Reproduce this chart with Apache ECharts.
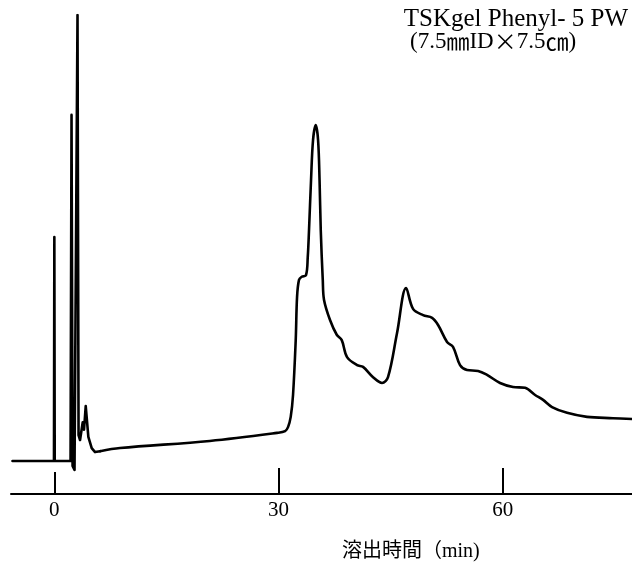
<!DOCTYPE html>
<html>
<head>
<meta charset="utf-8">
<title>TSKgel Phenyl-5PW</title>
<script src="https://cdn.jsdelivr.net/npm/echarts@6/dist/echarts.min.js"></script>
<style>
  html, body { margin: 0; padding: 0; background: #ffffff; }
  #chart { width: 632px; height: 570px; }
</style>
</head>
<body>
<div id="chart"></div>
<script>
// Early part of the run: injection mark and unretained spikes (drawn without smoothing)
const spikeTimes  = [-5.6, -0.05, 0.0, 0.05, 2.17, 2.30, 2.44, 2.70, 2.90, 3.10, 3.24, 3.44, 3.80, 3.97, 4.20, 4.55, 5.00, 5.45, 6.12];
const spikeSignal = [0.0, 0.0, 50.2, 0.0, 0.0, 77.6, -1.1, -2.0, -2.0, 100.0, 5.8, 4.7, 8.7, 7.0, 12.3, 5.4, 2.9, 2.0, 2.2];

// Gradient elution profile (retention time in min, detector response)
const elutionTimes = [6.12, 8.79, 20.8, 29.8, 30.88, 31.27, 31.63, 31.94, 32.30, 32.48, 32.74, 33.11, 33.68, 33.91, 34.08, 34.35, 34.62, 34.98, 35.29, 35.49, 35.65, 35.92, 36.09, 36.89, 37.79, 38.46, 39.17, 40.51, 41.31, 42.65, 43.85, 44.65, 45.86, 47.07, 48.00, 49.34, 50.55, 51.35, 52.55, 53.35, 54.29, 55.23, 56.70, 57.90, 59.64, 61.38, 62.99, 64.33, 65.40, 66.60, 68.61, 71.28, 74.76, 77.30];
const elutionSignal = [2.2, 2.9, 4.5, 6.3, 6.7, 7.6, 9.9, 14.8, 27.1, 36.8, 40.6, 41.3, 41.7, 45.7, 51.8, 63.0, 72.0, 75.3, 72.0, 63.0, 51.8, 40.6, 36.1, 31.6, 28.3, 27.1, 23.3, 21.5, 21.1, 18.8, 17.5, 18.8, 28.7, 38.8, 34.1, 32.7, 32.1, 30.5, 26.7, 25.6, 21.5, 20.4, 20.2, 19.3, 17.5, 16.6, 16.4, 14.8, 13.7, 12.1, 10.8, 9.9, 9.6, 9.4];

// Time axis
const timeTicks = [0, 30, 60];
const xMin = -5.8;
const xMax = 77.3;

const columnName = 'TSKgel Phenyl- 5 PW';
const axisTitle = '溶出時間（min)';

const pair = (xs, ys) => xs.map((x, i) => [x, ys[i]]);

const serif = "'Liberation Serif', 'DejaVu Serif', 'Noto Sans CJK JP', serif";
const cjk = "'Noto Sans CJK JP', 'Liberation Serif', sans-serif";
const traceStyle = { color: '#000000', width: 2.6, join: 'round', cap: 'round' };

const chart = echarts.init(document.getElementById('chart'), null, { renderer: 'canvas' });

chart.setOption({
  animation: false,
  backgroundColor: '#ffffff',
  grid: { left: 11, right: 0, top: 15, bottom: 76 },
  xAxis: [
    {
      type: 'value',
      min: xMin,
      max: xMax,
      position: 'bottom',
      axisLine: { show: true, onZero: false, lineStyle: { color: '#000000', width: 2 } },
      axisTick: {
        show: true, inside: true, length: 26,
        customValues: timeTicks.filter(v => v !== 0),
        lineStyle: { color: '#000000', width: 2 }
      },
      axisLabel: {
        show: true, margin: 6,
        customValues: timeTicks,
        color: '#000000', fontFamily: serif, fontSize: 21
      },
      splitLine: { show: false }
    },
    {
      // shorter start mark at t = 0
      type: 'value',
      min: xMin,
      max: xMax,
      position: 'bottom',
      axisLine: { show: false, onZero: false },
      axisTick: {
        show: true, inside: true, length: 22,
        customValues: [timeTicks[0]],
        lineStyle: { color: '#000000', width: 2 }
      },
      axisLabel: { show: false },
      splitLine: { show: false }
    }
  ],
  yAxis: {
    type: 'value',
    min: -7.4,
    max: 100,
    show: false
  },
  series: [
    {
      type: 'line',
      xAxisIndex: 0,
      data: pair(spikeTimes, spikeSignal),
      showSymbol: false,
      smooth: false,
      lineStyle: traceStyle,
      silent: true
    },
    {
      type: 'line',
      xAxisIndex: 0,
      data: pair(elutionTimes, elutionSignal),
      showSymbol: false,
      smooth: 0.35,
      lineStyle: traceStyle,
      silent: true
    }
  ],
  graphic: [
    {
      type: 'text', right: 4, top: 7,
      style: { text: columnName, fill: '#000000', font: "25px " + serif }
    },
    {
      // column dimensions, units set in the CJK face
      type: 'text', left: 410, top: 30,
      style: {
        text: '{s|(7.5}{u|㎜}{s|ID}{u|×}{s|7.5}{u|㎝}{s|)}',
        fill: '#000000',
        rich: {
          s: { fontFamily: serif, fontSize: 23, fill: '#000000' },
          u: { fontFamily: cjk, fontSize: 23, fill: '#000000' }
        }
      }
    },
    {
      type: 'text', left: 342, top: 542,
      style: { text: axisTitle, fill: '#000000', font: "20px " + serif }
    }
  ]
});
</script>
</body>
</html>
